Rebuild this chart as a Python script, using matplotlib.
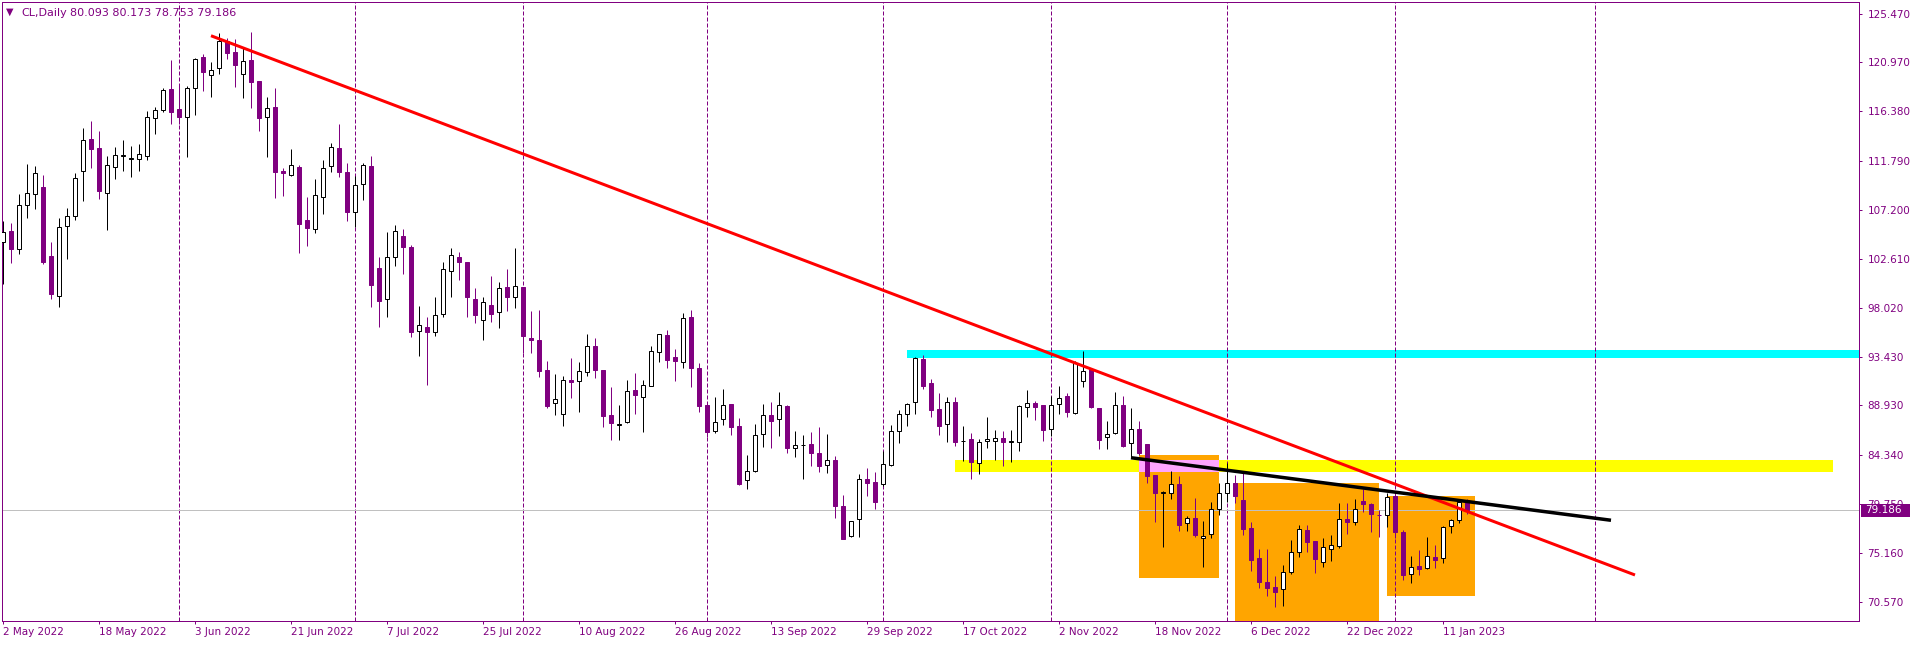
import matplotlib
matplotlib.use('Agg')
import matplotlib.pyplot as plt
from matplotlib.patches import Rectangle
import numpy as np

# ---------------- data (bar index = trading day from 2 May 2022) ----------------
opens = [104.15, 105.21, 103.56, 107.61, 108.63, 109.32, 102.87, 99.17, 105.71, 106.64,
         110.84, 113.80, 112.96, 108.79, 111.22, 112.25, 111.93, 111.90, 112.24, 115.73,
         116.51, 118.47, 116.57, 115.88, 118.53, 121.42, 119.74, 120.40, 122.92, 121.89,
         119.84, 121.14, 119.18, 115.88, 116.76, 110.78, 110.47, 111.18, 106.21, 105.36,
         108.35, 111.25, 112.96, 110.72, 107.01, 109.57, 111.28, 101.75, 98.83, 102.81,
         104.74, 103.72, 95.90, 96.20, 95.80, 97.50, 101.51, 102.75, 102.28, 98.83,
         96.86, 98.27, 97.61, 99.95, 99.01, 99.95, 95.21, 95.03, 92.23, 89.11,
         88.09, 91.29, 91.20, 92.01, 94.47, 92.23, 88.03, 87.12, 87.34, 90.36,
         89.68, 90.70, 93.88, 95.50, 93.44, 93.00, 97.18, 92.38, 88.96, 86.50,
         87.68, 89.05, 87.00, 81.93, 82.83, 86.28, 88.00, 87.68, 88.83, 84.91,
         85.19, 85.29, 84.45, 83.33, 83.79, 79.53, 76.70, 78.28, 82.02, 81.74,
         81.58, 83.36, 86.50, 88.09, 89.27, 93.22, 91.01, 88.55, 87.15, 89.21,
         85.60, 85.76, 83.58, 85.57, 85.63, 85.85, 85.51, 85.54, 88.74, 89.15,
         88.93, 86.69, 89.02, 89.80, 88.18, 91.17, 92.33, 88.65, 85.94, 86.32,
         88.93, 85.38, 86.75, 85.32, 82.43, 80.78, 80.71, 81.55, 77.91, 78.38,
         76.51, 76.89, 79.22, 80.72, 81.65, 80.09, 77.45, 74.65, 72.41, 71.94,
         71.75, 73.34, 75.21, 77.26, 76.30, 74.27, 75.55, 75.80, 78.32, 78.07,
         79.97, 79.72, 78.72, 78.66, 80.47, 77.13, 73.15, 73.93, 73.71, 74.74,
         74.65, 77.63, 78.19, 80.093]
highs = [106.10, 105.93, 108.66, 111.47, 111.28, 110.44, 104.18, 106.39, 107.32, 110.66,
         114.83, 115.48, 114.55, 112.21, 113.05, 113.71, 113.15, 113.30, 116.41, 116.76,
         118.53, 121.18, 118.93, 118.78, 121.33, 121.70, 121.00, 123.66, 123.20, 123.10,
         122.36, 123.76, 119.20, 117.75, 118.53, 111.06, 112.83, 111.34, 108.42, 110.03,
         111.84, 113.39, 115.20, 111.53, 110.34, 111.53, 112.24, 102.78, 105.12, 105.74,
         105.36, 103.90, 98.20, 97.20, 99.00, 102.31, 103.62, 103.22, 102.30, 99.86,
         99.07, 101.00, 100.41, 101.66, 103.59, 99.95, 97.74, 97.83, 93.04, 91.85,
         91.64, 93.35, 92.97, 95.59, 95.21, 92.25, 90.64, 88.96, 91.26, 91.95,
         91.26, 94.50, 95.60, 95.96, 94.19, 97.55, 97.83, 92.88, 89.00, 89.74,
         90.45, 89.05, 87.71, 84.29, 87.19, 89.05, 89.24, 90.17, 88.99, 86.53,
         86.16, 86.44, 86.87, 86.25, 84.20, 80.56, 78.16, 82.52, 83.11, 82.70,
         84.70, 87.06, 88.49, 89.15, 93.47, 93.63, 91.39, 90.11, 89.68, 89.68,
         87.00, 86.32, 85.82, 87.87, 86.63, 86.53, 86.66, 88.93, 90.33, 89.31,
         88.95, 89.80, 90.74, 90.05, 93.10, 94.00, 92.45, 88.70, 87.47, 90.18,
         89.80, 88.68, 87.47, 85.35, 82.45, 80.90, 82.77, 82.36, 78.60, 80.25,
         78.13, 79.87, 81.65, 83.52, 82.39, 82.83, 78.01, 75.52, 75.52, 72.99,
         74.02, 76.36, 77.76, 77.76, 76.30, 76.51, 76.79, 79.78, 79.78, 80.19,
         81.12, 79.84, 79.16, 80.72, 80.72, 77.29, 74.86, 75.42, 76.61, 75.89,
         77.66, 78.29, 79.99, 80.173]
lows = [100.30, 102.19, 103.03, 106.45, 107.29, 102.16, 98.89, 98.14, 102.59, 106.24,
        108.04, 111.09, 108.20, 105.30, 110.06, 110.84, 110.28, 110.84, 111.81, 114.30,
        116.35, 115.23, 115.23, 112.15, 116.07, 118.31, 117.75, 119.84, 121.24, 118.69,
        117.60, 116.72, 114.58, 112.15, 108.32, 108.51, 110.34, 103.12, 103.84, 105.05,
        106.80, 110.75, 110.28, 106.14, 105.55, 108.07, 98.14, 96.20, 97.15, 101.94,
        101.19, 95.30, 93.50, 90.80, 95.40, 97.20, 99.08, 100.63, 97.21, 96.60,
        95.03, 96.74, 96.18, 97.74, 98.05, 93.78, 93.85, 91.61, 88.71, 88.03,
        87.03, 89.64, 88.27, 91.70, 91.51, 86.94, 85.72, 85.72, 87.25, 88.15,
        86.47, 90.70, 93.00, 92.45, 91.23, 92.45, 90.67, 88.34, 86.00, 86.38,
        87.06, 86.16, 81.49, 81.15, 82.74, 85.04, 84.98, 86.10, 84.45, 84.14,
        82.02, 83.30, 82.74, 82.64, 78.38, 76.42, 76.60, 76.67, 80.49, 79.28,
        81.40, 83.26, 85.44, 87.00, 88.09, 90.48, 87.87, 86.19, 85.54, 85.13,
        83.73, 82.08, 82.49, 84.92, 83.83, 83.30, 83.67, 84.70, 87.87, 87.56,
        85.63, 86.10, 88.12, 87.84, 88.09, 90.61, 88.71, 84.82, 84.82, 86.30,
        85.07, 84.08, 84.29, 81.71, 78.04, 75.73, 80.22, 77.20, 77.20, 76.61,
        73.87, 76.58, 78.69, 79.94, 79.84, 76.86, 73.49, 71.85, 71.16, 70.13,
        70.23, 73.15, 74.80, 75.21, 73.25, 73.87, 74.37, 75.64, 76.89, 77.79,
        78.97, 77.13, 76.67, 77.60, 76.51, 72.62, 72.37, 73.09, 73.62, 73.71,
        74.18, 76.98, 77.91, 78.753]
closes = [105.15, 103.56, 107.61, 108.73, 110.59, 102.35, 99.33, 105.55, 106.58, 110.13,
          113.67, 112.90, 108.97, 111.34, 112.27, 112.32, 112.00, 112.37, 115.82, 116.48,
          118.34, 116.35, 115.88, 118.53, 121.24, 120.09, 120.27, 122.92, 121.86, 120.74,
          121.11, 119.09, 115.79, 116.66, 110.75, 110.59, 111.34, 105.89, 105.52, 108.54,
          111.06, 113.02, 110.75, 107.01, 109.47, 111.34, 100.17, 98.70, 102.75, 105.24,
          103.75, 95.80, 96.40, 95.80, 97.40, 101.63, 103.00, 102.35, 99.02, 97.37,
          98.55, 97.42, 99.91, 99.07, 100.04, 95.43, 95.06, 92.17, 88.90, 89.55,
          91.26, 91.14, 92.10, 94.47, 92.26, 87.96, 87.25, 87.19, 90.24, 89.86,
          90.80, 93.97, 95.56, 93.19, 93.10, 97.08, 92.45, 88.90, 86.41, 87.34,
          88.93, 86.94, 81.58, 82.77, 86.13, 88.00, 87.50, 88.93, 84.98, 85.26,
          85.26, 84.51, 83.30, 83.79, 79.56, 76.48, 78.10, 82.02, 81.71, 79.87,
          83.42, 86.50, 88.09, 89.02, 93.32, 90.76, 88.52, 87.03, 89.21, 85.54,
          85.63, 83.67, 85.54, 85.76, 85.85, 85.51, 85.57, 88.84, 89.12, 88.81,
          86.60, 88.93, 89.65, 88.28, 92.91, 92.11, 88.81, 85.73, 86.29, 88.93,
          85.17, 86.75, 84.45, 82.36, 80.78, 80.84, 81.55, 77.79, 78.38, 76.86,
          76.76, 79.22, 80.72, 81.65, 80.50, 77.42, 74.49, 72.47, 71.91, 71.53,
          73.34, 75.21, 77.35, 76.20, 74.55, 75.67, 75.86, 78.29, 78.07, 79.22,
          79.75, 78.75, 78.66, 80.34, 77.07, 73.09, 73.81, 73.62, 74.86, 74.52,
          77.60, 78.19, 79.90, 79.186]

date_labels = ['2 May 2022', '18 May 2022', '3 Jun 2022', '21 Jun 2022', '7 Jul 2022',
               '25 Jul 2022', '10 Aug 2022', '26 Aug 2022', '13 Sep 2022', '29 Sep 2022',
               '17 Oct 2022', '2 Nov 2022', '18 Nov 2022', '6 Dec 2022', '22 Dec 2022',
               '11 Jan 2023']
label_bars = [0, 12, 24, 36, 48, 60, 72, 84, 96, 108, 120, 132, 144, 156, 168, 180]
month_start_bars = [22, 44, 65, 88, 110, 131, 153, 174, 199]
price_ticks = [125.47, 120.97, 116.38, 111.79, 107.20, 102.61, 98.02, 93.43,
               88.93, 84.34, 79.75, 75.16, 70.57]

symbol_title = 'CL,Daily'
last_ohlc = '80.093 80.173 78.753 79.186'
bid_price = 79.186

# drawn objects: (bar_start, bar_end, price_low, price_high, colour)
zones = [
    (113, 240, 93.38, 94.10, '#00FFFF'),
    (119, 228.7, 82.73, 83.83, '#FFFF00'),
    (142, 152, 72.84, 84.29, '#FFA500'),
    (154, 172, 60.00, 81.68, '#FFA500'),
    (173, 184, 71.16, 80.47, '#FFA500'),
    (142, 152, 82.73, 83.83, '#FFA5FF'),
]
red_trend_bars = [26, 204]
red_trend_prices = [123.44, 73.09]
black_trend_bars = [141, 201]
black_trend_prices = [84.04, 78.20]

# ---------------- figure ----------------
W, H, DPI = 1916, 645, 100
PX = 72.0 / DPI
PURPLE = '#800080'
plt.rcParams['font.family'] = ['DejaVu Sans']

fig = plt.figure(figsize=(W / DPI, H / DPI), dpi=DPI, facecolor='white')
ax_l, ax_r, ax_t, ax_b = 2, 1859, 2, 621
ax = fig.add_axes([ax_l / W, (H - ax_b) / H, (ax_r - ax_l) / W, (ax_b - ax_t) / H])
ax.set_facecolor('white')

ax.set_xlim((ax_l - 3) / 8.0, (ax_r - 3) / 8.0)
ppx = 0.09337
ax.set_ylim(125.47 - (ax_b - 14) * ppx, 125.47 + (14 - ax_t) * ppx)

for x0, x1, y0, y1, col in zones:
    ax.add_patch(Rectangle((x0, y0), x1 - x0, y1 - y0, facecolor=col,
                           edgecolor='none', zorder=1))

for b in month_start_bars:
    ax.axvline(b, color=PURPLE, lw=PX, linestyle=(0, (4, 2)), zorder=2)

ax.axhline(bid_price, color='#C0C0C0', lw=PX, zorder=2)

o = np.array(opens); h = np.array(highs); l = np.array(lows); c = np.array(closes)
xs = np.arange(len(o))
bull = c >= o
wick_cols = np.where(bull, 'black', PURPLE)
ax.vlines(xs, l, h, colors=wick_cols, lw=PX, zorder=3)
body_bottom = np.minimum(o, c)
body_h = np.abs(c - o)
ax.bar(xs[bull], body_h[bull], bottom=body_bottom[bull], width=0.5,
       facecolor='white', edgecolor='black', linewidth=PX, zorder=4)
ax.bar(xs[~bull], body_h[~bull], bottom=body_bottom[~bull], width=0.5,
       facecolor=PURPLE, edgecolor=PURPLE, linewidth=PX, zorder=4)

ax.plot(red_trend_bars, red_trend_prices, color='#FF0000', lw=3 * PX,
        solid_capstyle='butt', zorder=5)
ax.plot(black_trend_bars, black_trend_prices, color='black', lw=3.5 * PX,
        solid_capstyle='butt', zorder=5)

for s in ax.spines.values():
    s.set_color(PURPLE)
    s.set_linewidth(PX)

ax.set_xticks(label_bars)
ax.set_xticklabels(date_labels, ha='left')
ax.yaxis.tick_right()
ax.set_yticks(price_ticks)
ax.set_yticklabels(['%.3f' % v for v in price_ticks])
ax.tick_params(axis='x', direction='out', length=3 * PX, width=PX, color=PURPLE,
               labelcolor=PURPLE, labelsize=7.5, pad=2.5)
ax.tick_params(axis='y', direction='out', length=3 * PX, width=PX, color=PURPLE,
               labelcolor=PURPLE, labelsize=7.5, pad=4)

# title
fig.text(6 / W, 1 - 12 / H, '\u25BC', fontsize=7, color=PURPLE, va='center', ha='left')
fig.text(21 / W, 1 - 12.5 / H, symbol_title, fontsize=8, color=PURPLE, va='center', ha='left')
fig.text(70 / W, 1 - 12.5 / H, last_ohlc, fontsize=8, color=PURPLE, va='center', ha='left')

# bid price box on the right axis (covers the 79.750 label as in the original)
fig.add_artist(Rectangle((1861 / W, 1 - 517 / H), 49 / W, 13.5 / H,
                         transform=fig.transFigure, facecolor=PURPLE,
                         edgecolor='none', zorder=10))
fig.text(1865 / W, 1 - 510 / H, '%.3f' % bid_price, fontsize=7.5, color='white',
         va='center', ha='left', zorder=11)

fig.savefig('out.png', dpi=DPI, facecolor='white')
